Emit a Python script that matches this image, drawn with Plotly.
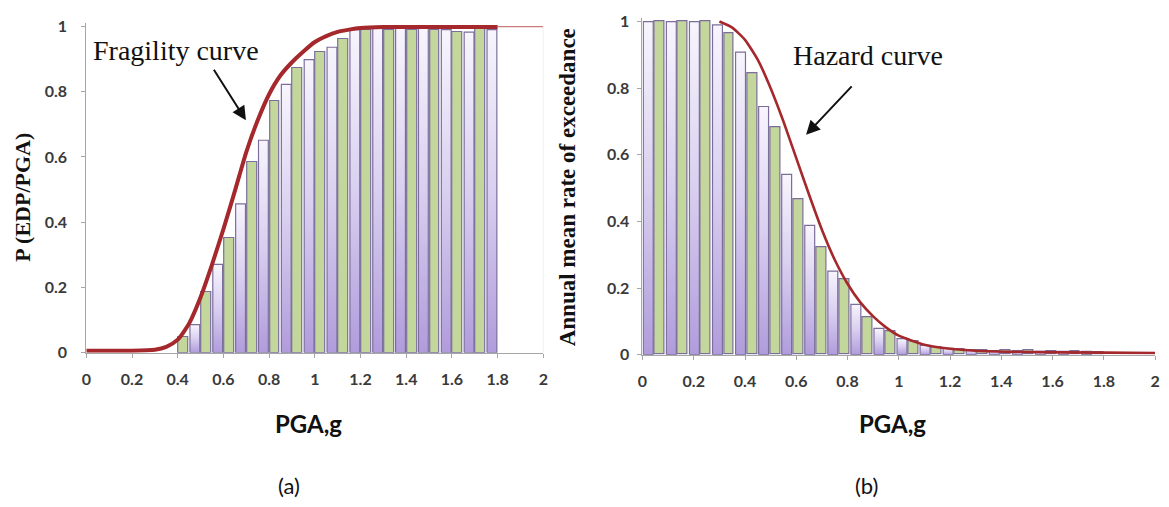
import plotly.graph_objects as go

# ------------------------------------------------------------------ data
# (a) fragility: bar bins (PGA, g) and probabilities
frag_pga = [0.425, 0.475, 0.525, 0.575, 0.625, 0.675, 0.725, 0.775, 0.825, 0.875,
            0.925, 0.975, 1.025, 1.075, 1.125, 1.175, 1.225, 1.275, 1.325, 1.375,
            1.425, 1.475, 1.525, 1.575, 1.625, 1.675, 1.725, 1.775]
frag_prob = [0.048, 0.086, 0.187, 0.271, 0.352, 0.456, 0.584, 0.651, 0.770, 0.822,
             0.871, 0.898, 0.921, 0.936, 0.960, 0.990, 0.990, 0.995, 0.990, 0.995,
             0.990, 0.995, 0.990, 0.990, 0.982, 0.982, 0.995, 0.990]
frag_curve_pga = [0, 0.1, 0.2, 0.3, 0.35, 0.4, 0.45, 0.5, 0.55, 0.6, 0.65, 0.7, 0.75,
                  0.8, 0.85, 0.9, 0.95, 1.0, 1.05, 1.1, 1.15, 1.2, 1.3, 1.4, 1.6, 1.8]
frag_curve_p = [0.006, 0.006, 0.006, 0.009, 0.018, 0.04, 0.09, 0.17, 0.27, 0.379, 0.495,
                0.615, 0.712, 0.792, 0.85, 0.89, 0.923, 0.952, 0.97, 0.983, 0.99, 0.995,
                0.998, 0.998, 0.998, 0.998]
frag_tail_pga = [1.8, 2.0]
frag_tail_p = [0.999, 0.999]

# (b) hazard: bar bins (PGA, g) and annual rates
haz_pga = [0.0225, 0.0675, 0.1125, 0.1575, 0.2025, 0.2475, 0.2925, 0.3375, 0.3825, 0.4275,
           0.4725, 0.5175, 0.5625, 0.6075, 0.6525, 0.6975, 0.7425, 0.7875, 0.8325, 0.8775,
           0.9225, 0.9675, 1.0125, 1.0575, 1.1025, 1.1475, 1.1925, 1.2375, 1.2825, 1.3275,
           1.3725, 1.4175, 1.4625, 1.5075, 1.5525, 1.5975, 1.6425, 1.6875, 1.7325, 1.7775]
haz_rate = [1.0, 1.0, 1.0, 1.0, 1.0, 1.0, 0.99, 0.966, 0.908, 0.845,
            0.745, 0.684, 0.541, 0.468, 0.388, 0.322, 0.251, 0.225, 0.151, 0.112,
            0.079, 0.069, 0.048, 0.039, 0.028, 0.023, 0.019, 0.015, 0.015, 0.012,
            0.012, 0.012, 0.012, 0.012, 0.01, 0.01, 0.01, 0.01, 0.01, 0.008]
haz_curve_pga = [0.3, 0.35, 0.4, 0.45, 0.5, 0.55, 0.6, 0.65, 0.7, 0.75, 0.8, 0.85, 0.9,
                 0.95, 1.0, 1.1, 1.2, 1.3, 1.5, 1.8, 2.0]
haz_curve_rate = [1.0, 0.982, 0.945, 0.885, 0.80, 0.70, 0.59, 0.48, 0.375, 0.285, 0.213,
                  0.157, 0.115, 0.082, 0.057, 0.03, 0.018, 0.012, 0.008, 0.006, 0.005]

x_tick_vals = [0, 0.2, 0.4, 0.6, 0.8, 1.0, 1.2, 1.4, 1.6, 1.8, 2.0]
x_tick_text = ["0", "0.2", "0.4", "0.6", "0.8", "1", "1.2", "1.4", "1.6", "1.8", "2"]
y_tick_vals = [0, 0.2, 0.4, 0.6, 0.8, 1.0]
y_tick_text = ["0", "0.2", "0.4", "0.6", "0.8", "1"]

# ------------------------------------------------------------------ style
W, H = 1169, 507
GREEN = "#c3d69b"
EDGE = "#7b6e9c"
LAV_SCALE = [[0, "#b09cdb"], [0.5, "#d9cff0"], [1, "#f8f5fd"]]
RED = "#a4282c"
AX = "#a6a6a6"
FRAG_STEP = 0.05
HAZ_STEP = 0.045

fig = go.Figure()


def add_bars(pga, vals, step, first_green, xa, ya):
    w = step * 0.86
    gx = [p for i, p in enumerate(pga) if (i % 2 == 0) == first_green]
    gy = [v for i, v in enumerate(vals) if (i % 2 == 0) == first_green]
    fig.add_trace(go.Bar(x=gx, y=gy, width=w, marker=dict(color=GREEN, line=dict(color=EDGE, width=1.2)),
                         xaxis=xa, yaxis=ya, showlegend=False, hoverinfo="x+y"))
    for i, (p, v) in enumerate(zip(pga, vals)):
        if (i % 2 == 0) == first_green:
            continue
        x0, x1 = p - w / 2, p + w / 2
        fig.add_trace(go.Scatter(
            x=[x0, x1, x1, x0, x0], y=[0, 0, v, v, 0], mode="lines", fill="toself",
            fillgradient=dict(type="vertical", colorscale=LAV_SCALE),
            line=dict(color=EDGE, width=1.2), xaxis=xa, yaxis=ya,
            showlegend=False, hoverinfo="skip"))


add_bars(frag_pga, frag_prob, FRAG_STEP, True, "x", "y")
add_bars(haz_pga, haz_rate, HAZ_STEP, False, "x2", "y2")

fig.add_trace(go.Scatter(x=frag_curve_pga, y=frag_curve_p, mode="lines",
                         line=dict(color=RED, width=4, shape="spline", smoothing=0.6),
                         xaxis="x", yaxis="y", showlegend=False))
fig.add_trace(go.Scatter(x=frag_tail_pga, y=frag_tail_p, mode="lines",
                         line=dict(color="#c87c7c", width=1.2),
                         xaxis="x", yaxis="y", showlegend=False))
fig.add_trace(go.Scatter(x=haz_curve_pga, y=haz_curve_rate, mode="lines",
                         line=dict(color=RED, width=2.6, shape="spline", smoothing=0.5),
                         xaxis="x2", yaxis="y2", showlegend=False))


def px_x(v):
    return v / W


def px_y(v):
    return 1 - v / H


tickfont = dict(family="Lato", size=16, color="#3a3a3a", weight="bold")
common_x = dict(range=[0, 2], tickvals=x_tick_vals, ticktext=x_tick_text, showline=True,
                linecolor=AX, linewidth=1, ticks="outside", ticklen=4, tickcolor=AX,
                showgrid=False, zeroline=False, tickfont=tickfont, ticklabelstandoff=8)
common_y = dict(tickvals=y_tick_vals, ticktext=y_tick_text, showline=True,
                linecolor=AX, linewidth=1, ticks="outside", ticklen=4, tickcolor=AX,
                showgrid=False, zeroline=False, tickfont=tickfont)

fig.update_layout(
    width=W, height=H, margin=dict(l=0, r=0, t=0, b=0),
    paper_bgcolor="white", plot_bgcolor="white", bargap=0,
    xaxis=dict(domain=[px_x(82), px_x(543)], anchor="y", **common_x),
    yaxis=dict(domain=[px_y(357), px_y(16.6)], range=[0, 1.01], anchor="x",
               ticklabelstandoff=11, **common_y),
    xaxis2=dict(domain=[px_x(643), px_x(1160)], anchor="y2", **common_x),
    yaxis2=dict(domain=[px_y(359), px_y(11.6)], range=[0, 1.01], anchor="x2",
                ticklabelstandoff=5, **common_y),
)

# faint right frame of panel (a)
fig.add_shape(type="line", xref="x", yref="y", x0=2, x1=2, y0=0, y1=1.0,
              line=dict(color="#dcdcdc", width=1))

serif = "Liberation Serif"
ann = [
    dict(text="Fragility curve", x=px_x(172), y=px_y(45), font=dict(family=serif, size=28, color="#111")),
    dict(text="Hazard curve", x=px_x(870), y=px_y(50), font=dict(family=serif, size=28, color="#111")),
    dict(text="P (EDP/PGA)", x=px_x(18), y=px_y(196), textangle=-90,
         font=dict(family=serif, size=22, color="#111", weight="bold")),
    dict(text="Annual mean rate of exceedance", x=px_x(567), y=px_y(186), textangle=-90,
         font=dict(family=serif, size=23, color="#111", weight="bold")),
    dict(text="PGA,g", x=px_x(306), y=px_y(430), font=dict(family="Lato", size=24, color="#111", weight="bold")),
    dict(text="PGA,g", x=px_x(895), y=px_y(430), font=dict(family="Lato", size=24, color="#111", weight="bold")),
    dict(text="(a)", x=px_x(286), y=px_y(494), font=dict(family="Lato", size=22, color="#111")),
    dict(text="(b)", x=px_x(869), y=px_y(494), font=dict(family="Lato", size=22, color="#111")),
]
for a in ann:
    fig.add_annotation(xref="paper", yref="paper", showarrow=False,
                       xanchor="center", yanchor="middle", **a)

# arrows
fig.add_annotation(xref="paper", yref="paper", x=px_x(243), y=px_y(117), text="",
                   showarrow=True, ax=-33, ay=-52, arrowhead=2, arrowsize=1.4,
                   arrowwidth=2, arrowcolor="#111")
fig.add_annotation(xref="paper", yref="paper", x=px_x(808), y=px_y(132), text="",
                   showarrow=True, ax=47, ay=-50, arrowhead=2, arrowsize=1.4,
                   arrowwidth=2, arrowcolor="#111")

fig.write_html("out.html", config={"displayModeBar": False},
               post_script="document.body.style.margin='0';document.body.style.overflow='hidden';")
